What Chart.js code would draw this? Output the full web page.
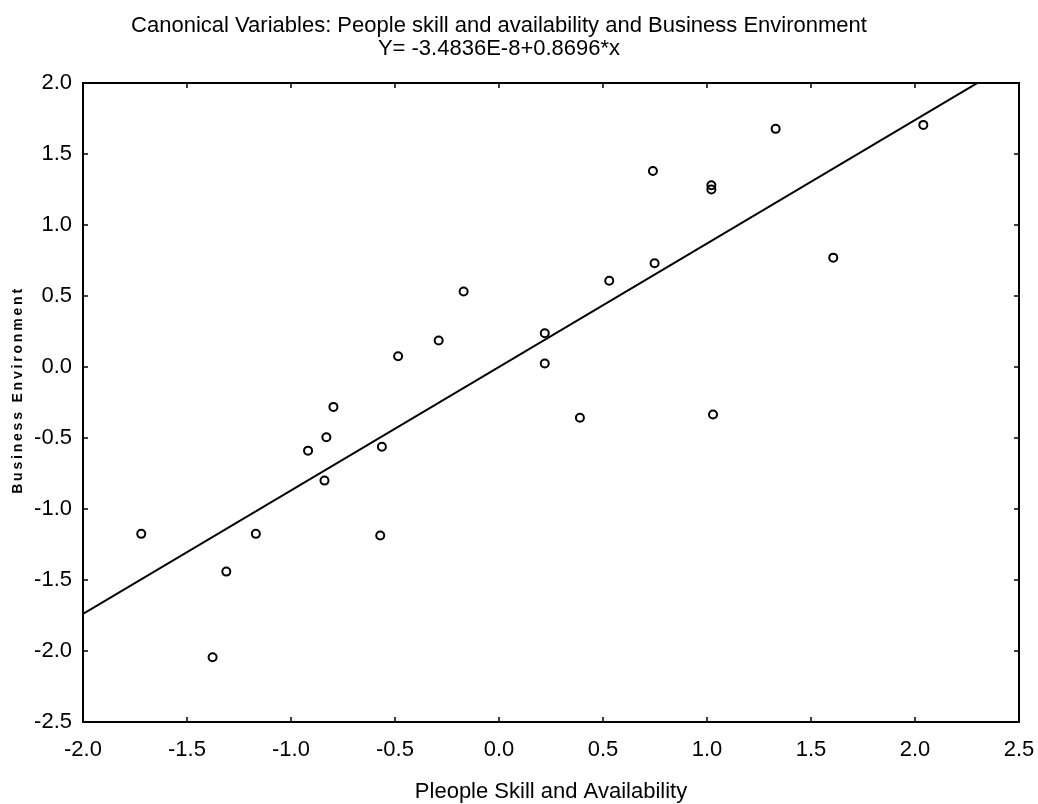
<!DOCTYPE html>
<html>
<head>
<meta charset="utf-8">
<title>Canonical Variables</title>
<script src="https://cdn.jsdelivr.net/npm/chart.js@4.4.1/dist/chart.umd.min.js"></script>
<style>
    html, body { margin: 0; padding: 0; background: #fff; }
    #wrap { width: 1038px; height: 804px; position: relative; }
</style>
</head>
<body>
<div id="wrap"><canvas id="chart"></canvas></div>
<script>
const TITLE_LINES = [
    'Canonical Variables: People skill and availability and Business Environment',
    'Y= -3.4836E-8+0.8696*x'
];
const X_TITLE = 'Pleople Skill and Availability';
const Y_TITLE = 'Business Environment';

// canonical scores
const X_VALUES = [-1.720, -1.377, -1.311, -1.169, -0.918, -0.839, -0.830, -0.796, -0.571, -0.563,
    -0.485, -0.290, -0.170, 0.220, 0.220, 0.389, 0.530, 0.740, 0.748, 1.021,
    1.021, 1.029, 1.330, 1.607, 2.040];
const Y_VALUES = [-1.175, -2.044, -1.441, -1.175, -0.589, -0.800, -0.495, -0.281, -1.187, -0.561,
    0.076, 0.186, 0.532, 0.238, 0.025, -0.358, 0.607, 1.380, 0.731, 1.280,
    1.250, -0.334, 1.677, 0.770, 1.705];

const X_RANGE = [-2.0, 2.5];
const Y_RANGE = [-2.5, 2.0];
const TICK_STEP = 0.5;

const INTERCEPT = -3.4836E-8;
const SLOPE = 0.8696;

const FONT = '"Liberation Sans", Arial, sans-serif';
Chart.defaults.font.family = FONT;
Chart.defaults.color = '#000';

const points = X_VALUES.map((x, i) => ({ x: x, y: Y_VALUES[i] }));
const fitLine = X_RANGE.map(x => ({ x: x, y: INTERCEPT + SLOPE * x }));

// frame, inward ticks on all four sides, title and rotated y title
const framePlugin = {
    id: 'frame',
    afterDraw(chart) {
        const ctx = chart.ctx;
        const area = chart.chartArea;
        const xs = chart.scales.x;
        const ys = chart.scales.y;
        const tick = 5;

        ctx.save();
        ctx.strokeStyle = '#000';
        ctx.lineWidth = 2;
        ctx.strokeRect(area.left, area.top, area.right - area.left, area.bottom - area.top);

        ctx.lineWidth = 1.5;
        ctx.beginPath();
        xs.ticks.forEach(t => {
            const px = xs.getPixelForValue(t.value);
            ctx.moveTo(px, area.bottom);
            ctx.lineTo(px, area.bottom - tick);
            ctx.moveTo(px, area.top);
            ctx.lineTo(px, area.top + tick);
        });
        ys.ticks.forEach(t => {
            const py = ys.getPixelForValue(t.value);
            ctx.moveTo(area.left, py);
            ctx.lineTo(area.left + tick, py);
            ctx.moveTo(area.right, py);
            ctx.lineTo(area.right - tick, py);
        });
        ctx.stroke();

        ctx.fillStyle = '#000';
        ctx.font = '22px ' + FONT;
        ctx.textAlign = 'center';
        ctx.textBaseline = 'alphabetic';
        const titleX = xs.getPixelForValue(0);
        ctx.fillText(TITLE_LINES[0], titleX, 32);
        ctx.fillText(TITLE_LINES[1], titleX, 55);

        ctx.translate(18, 390);
        ctx.rotate(-Math.PI / 2);
        ctx.font = 'bold 14px ' + FONT;
        ctx.letterSpacing = '2.8px';
        ctx.textBaseline = 'middle';
        ctx.fillText(Y_TITLE, 0, 0);
        ctx.restore();
    }
};

new Chart(document.getElementById('chart'), {
    type: 'scatter',
    data: {
        datasets: [
            {
                label: 'scores',
                data: points,
                pointStyle: 'circle',
                pointRadius: 4,
                pointBorderWidth: 2,
                pointBorderColor: '#000',
                pointBackgroundColor: 'rgba(0,0,0,0)',
                showLine: false
            },
            {
                label: 'fit',
                data: fitLine,
                showLine: true,
                borderColor: '#000',
                borderWidth: 2,
                pointRadius: 0,
                tension: 0
            }
        ]
    },
    options: {
        responsive: true,
        maintainAspectRatio: false,
        animation: false,
        events: [],
        layout: { padding: { top: 83, right: 19, left: 0, bottom: 0 } },
        plugins: {
            legend: { display: false },
            tooltip: { enabled: false },
            title: { display: false }
        },
        scales: {
            x: {
                type: 'linear',
                position: 'bottom',
                min: X_RANGE[0],
                max: X_RANGE[1],
                grid: { display: false, drawTicks: false },
                border: { display: false },
                ticks: {
                    stepSize: TICK_STEP,
                    padding: 15,
                    maxRotation: 0,
                    autoSkip: false,
                    font: { size: 22 },
                    callback: v => Number(v).toFixed(1)
                },
                title: {
                    display: true,
                    text: X_TITLE,
                    font: { size: 22, lineHeight: 1 },
                    padding: { top: 0, bottom: 1 }
                },
                afterFit: scale => {
                    scale.height = 82;
                    scale.paddingLeft = 0;
                    scale.paddingRight = 0;
                }
            },
            y: {
                type: 'linear',
                position: 'left',
                min: Y_RANGE[0],
                max: Y_RANGE[1],
                grid: { display: false, drawTicks: false },
                border: { display: false },
                ticks: {
                    stepSize: TICK_STEP,
                    padding: 11,
                    autoSkip: false,
                    font: { size: 22 },
                    callback: v => Number(v).toFixed(1)
                },
                afterFit: scale => {
                    scale.width = 83;
                    scale.paddingTop = 0;
                    scale.paddingBottom = 0;
                }
            }
        }
    },
    plugins: [framePlugin]
});
</script>
</body>
</html>
